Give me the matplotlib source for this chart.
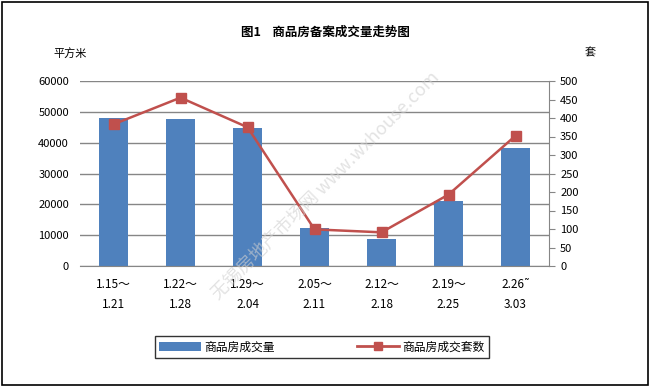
import matplotlib
matplotlib.use("Agg")
import matplotlib.pyplot as plt
from matplotlib.lines import Line2D
from matplotlib.patches import Patch, Rectangle

plt.rcParams['font.family'] = ['Noto Sans CJK SC', 'DejaVu Sans']

categories = ["1.15～\n1.21", "1.22～\n1.28", "1.29～\n2.04", "2.05～\n2.11",
              "2.12～\n2.18", "2.19～\n2.25", "2.26˜\n3.03"]
area = [48000, 47700, 44700, 12200, 8900, 21100, 38200]
units = [383, 455, 375, 99, 91, 193, 352]

bar_color = "#4F81BD"
line_color = "#C0504D"
grid_color = "#868686"

fig = plt.figure(figsize=(6.5, 3.87), dpi=100)
fig.patches.append(Rectangle((0.003, 0.005), 0.994, 0.99, transform=fig.transFigure,
                             fill=False, edgecolor="black", linewidth=1.2))

ax = fig.add_axes([80/650, 1-266/387, (549-80)/650, (266-81)/387])
x = list(range(len(categories)))
ax.bar(x, area, width=0.42, color=bar_color, zorder=2)
ax.set_ylim(0, 60000)
ax.set_xlim(-0.5, len(categories)-0.5)
ax.set_yticks(range(0, 60001, 10000))
ax.yaxis.grid(True, color=grid_color, linewidth=1)
ax.set_axisbelow(True)
for s in ["top", "left", "right"]:
    ax.spines[s].set_visible(False)
ax.spines["bottom"].set_color(grid_color)
ax.tick_params(axis="y", length=0, labelsize=8, pad=8)
ax.tick_params(axis="x", length=0, labelsize=8.5, pad=9)
ax.set_xticks(x)
ax.set_xticklabels(categories, linespacing=1.7)

ax2 = ax.twinx()
ax2.plot(x, units, color=line_color, linewidth=1.8, marker="s", markersize=7,
         markerfacecolor=line_color, markeredgecolor=line_color, zorder=3)
ax2.set_ylim(0, 500)
ax2.set_yticks(range(0, 501, 50))
for s in ["top", "left", "bottom"]:
    ax2.spines[s].set_visible(False)
ax2.spines["right"].set_color(grid_color)
ax2.tick_params(axis="y", direction="out", length=4, color=grid_color, labelsize=8, pad=4)

fig.text(325/650, 1-32/387, "图1    商品房备案成交量走势图", ha="center", va="center",
         fontsize=9, fontweight="bold")
fig.text(70/650, 1-53/387, "平方米", ha="center", va="center", fontsize=8)
fig.text(590/650, 1-53/387, "套", ha="center", va="center", fontsize=8)

fig.text(325/650, 1-185/387, "无锡房地产市场网 www.wxhouse.com", ha="center", va="center",
         fontsize=13, rotation=45, color="#d0d0d0", alpha=0.6, zorder=0)

handles = [Patch(facecolor=bar_color, edgecolor="none"),
           Line2D([0], [0], color=line_color, linewidth=2, marker="s", markersize=6)]
leg = fig.legend(handles, ["商品房成交量", "商品房成交套数"], loc="center",
                 bbox_to_anchor=(322/650, 1-347/387), ncol=2, fontsize=8.5,
                 frameon=True, fancybox=False, edgecolor="black", handlelength=3.5,
                 handletextpad=0.3, columnspacing=7, borderpad=0.4,
                 borderaxespad=0)
leg.get_frame().set_linewidth(1)

fig.savefig("out.png", dpi=100)
